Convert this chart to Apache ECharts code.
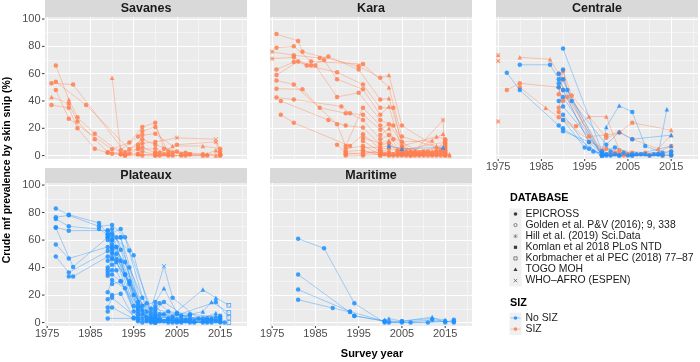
<!DOCTYPE html>
<html>
<head>
<meta charset="utf-8">
<script src="https://cdn.jsdelivr.net/npm/echarts@6/dist/echarts.min.js"></script>
<style>
  html, body { margin: 0; padding: 0; background: #fff; }
  #main { width: 700px; height: 362px; }
</style>
</head>
<body>
<div id="main"></div>
<script>
// tick labels
const yearTicks = [1975, 1985, 1995, 2005, 2015];
const prevTicks = [0, 20, 40, 60, 80, 100];
const regions = ['Savanes', 'Kara', 'Centrale', 'Plateaux', 'Maritime'];
const databases = ['EPICROSS', 'Golden et al. P&V (2016); 9, 338', 'Hill et al. (2019) Sci.Data',
  'Komlan et al 2018 PLoS NTD', 'Korbmacher et al PEC (2018) 77\u201387', 'TOGO MOH', 'WHO\u2013AFRO (ESPEN)'];
const dbCodes = ['c', 'o', 's', 'k', 'q', 't', 'x'];
const sizGroups = ['No SIZ', 'SIZ'];

// one array per site: [survey year, prevalence %, database code (default c = EPICROSS)]
const savanesSIZ = [
  [[1976, 53], [1981, 52], [1993, 2.5], [1997, 6], [2000, 2], [2004, 0], [2012, 0]],
  [[1977, 66], [1980, 41, 't'], [1982, 28], [1986, 16], [1993, 0], [1997, 3], [2001, 0]],
  [[1976, 43, 't'], [1980, 38], [1982, 25], [1986, 12], [1989, 2.5], [1994, 1.5], [1996, 4.7], [2000, 5], [2003, 1]],
  [[1977, 54], [1984, 37], [1994, 4.7], [1997, 12], [2000, 8], [2005, 3], [2011, 1], [2015, 1]],
  [[1976, 37], [1980, 35], [1982, 20], [1986, 5], [1989, 2], [1992, 1], [1996, 1], [2000, 0], [2007, 0]],
  [[1977, 48], [1980, 27], [1990, 4.7], [1994, 9.6], [1997, 21], [2000, 24], [2002, 5], [2006, 1], [2015, 0]],
  [[1990, 57, 't'], [1992, 4], [1996, 14], [1997, 18], [2000, 21], [2003, 3], [2008, 1]],
  [[1990, 1.3], [1992, 1], [1996, 8], [1997, 15], [2000, 16], [2004, 7, 't'], [2011, 7, 't'], [2015, 5]],
  [[1996, 6], [1997, 9], [2000, 10], [2005, 13, 's'], [2014, 12, 'x'], [2015, 3]],
  [[1993, 0], [1997, 0], [2001, 2], [2005, 8], [2014, 10, 's'], [2015, 0]],
  [[1996, 1], [2000, 0], [2003, 0], [2006, 0], [2011, 0, 't'], [2014, 4, 't'], [2015, 1]],
  [[2000, 2], [2002, 1], [2004, 2], [2007, 2], [2008, 1], [2012, 1, 't'], [2014, 0, 't']]
];
const savanesNoSIZ = [];

const karaSIZ = [
  [[1976, 89], [1981, 84], [1982, 76], [1995, 65.5], [2000, 57], [2002, 59, 't'], [2005, 22], [2015, 2]],
  [[1976, 79], [1980, 80], [1984, 69], [1996, 67], [2002, 50, 't'], [2005, 14], [2015, 4]],
  [[1975, 76, 's'], [1980, 73.5], [1986, 71.5], [1988, 72.5], [1995, 63], [2000, 41], [2002, 42, 't'], [2005, 10], [2012, 11, 't']],
  [[1975, 71, 's'], [1980, 72], [1983, 66], [1990, 61], [1996, 52], [2000, 35], [2003, 35], [2005, 7], [2013, 14, 't'], [2015, 12]],
  [[1976, 63], [1980, 68.5], [1984, 66], [1987, 70], [1990, 56], [1996, 48.5], [2000, 30], [2002, 36, 't'], [2005, 4], [2015, 10]],
  [[1976, 59], [1981, 69], [1985, 66], [1990, 43], [1995, 46], [2000, 26], [2003, 22], [2007, 2], [2014.5, 16, 't'], [2015, 8]],
  [[1976, 55], [1980, 52], [1990, 23], [1992, 7], [1996, 35], [2000, 22], [2005, 2], [2015, 6]],
  [[1976, 49], [1982, 48.5], [1986, 35], [1992, 31], [1996, 30], [2000, 19], [2002, 23], [2007, 0], [2014.5, 26, 's'], [2015, 0]],
  [[1976, 42.5], [1980, 41], [1991, 36], [1993, 31], [1996, 26], [2000, 12], [2002, 15], [2010, 1]],
  [[1977, 40], [1988, 26], [1992, 22], [1996, 20.6], [2000, 8], [2002, 9], [2005, 0], [2015, 2]],
  [[1977, 30], [1980, 24], [1993, 7], [1996, 15.6], [2000, 5], [2002, 5], [2009, 1], [2016, 0, 't']],
  [[1996, 10.7], [2000, 3], [2002, 2], [2006, 2], [2012, 1], [2015, 1]],
  [[1992, 5], [1996, 7], [2000, 1], [2002, 0], [2008, 0], [2013, 0]],
  [[1992, 3], [1996, 4], [2000, 0], [2003, 0], [2005, 1], [2011, 0], [2015, 0]],
  [[1992, 1], [1996, 2], [2000, 2], [2004, 0], [2007, 1], [2010, 0], [2014, 0]],
  [[1992, 0], [1996, 0], [2000, 1], [2002, 1], [2006, 0], [2009, 0], [2012, 3, 't'], [2015, 3]],
  [[1996, 13], [2000, 9], [2002, 11, 't'], [2004, 4], [2006, 1], [2008, 4, 't'], [2013, 2], [2015, 5]],
  [[1996, 6], [2000, 6], [2002, 7], [2005, 5], [2011, 3], [2013, 7, 't'], [2015, 7]],
  [[2000, 15], [2002, 20, 't'], [2003, 12], [2005, 6], [2010, 2], [2014, 4]],
  [[2000, 3], [2001, 1], [2004, 3], [2006, 3], [2008, 2], [2012, 2], [2015, 1]],
  [[1990, 8], [1992, 2], [1996, 1], [2000, 4], [2002, 3, 't'], [2004, 1], [2007, 3], [2009, 2], [2013, 1], [2015, 9]],
  [[1996, 3], [2000, 2], [2003, 1], [2005, 3], [2008, 1], [2010, 3], [2012, 0], [2014, 2], [2016, 1, 't']],
  [[2000, 0], [2002, 1, 't'], [2005, 1], [2007, 0], [2009, 1], [2011, 2, 't'], [2013, 4], [2015, 11]]
];
const karaNoSIZ = [
  [[2002, 7, 't'], [2005, 5, 't'], [2014.5, 6, 't']]
];

const centraleSIZ = [
  [[1980, 72, 't'], [1987, 70.5, 't'], [1989, 60], [1999, 2], [2003, 1], [2015, 0]],
  [[1977, 48], [1980, 53], [1989, 50], [1990, 56], [1996, 14], [2000, 15], [2003, 17], [2006, 24], [2015, 18.7, 't']],
  [[1980, 50], [1986, 35, 't'], [1989, 28], [1993, 21.4], [1996, 28.6, 't'], [2000, 28.6, 't'], [2003, 4], [2009, 2], [2015, 3]],
  [[1989, 45], [1990, 62], [1992, 44], [2000, 13], [2003, 17], [2006, 12], [2012, 5, 't'], [2015, 15, 't']],
  [[1989, 35], [1990, 48], [1996, 10], [2000, 5], [2005, 1], [2013, 0]],
  [[1990, 40], [1991, 43], [1999, 0], [2002, 2], [2006, 2], [2013, 1]],
  [[1989, 32], [1990, 26], [1999, 4], [2001, 1], [2004, 0], [2010, 0], [2015, 7]],
  [[1975, 73.5, 's']],
  [[1975, 69.3, 's']],
  [[1975, 25, 's']]
];
const centraleNoSIZ = [
  [[1977, 60.7], [1980, 48], [1989, 22], [1990, 17.8], [1996, 10], [1999, 1], [2006, 0]],
  [[1980, 66.5], [1987, 66.5], [1989, 56], [1999, 0], [2003, 0], [2009, 1]],
  [[1990, 78.4], [1999, 3], [2002, 6], [2006, 1], [2012, 1]],
  [[1989, 53], [1990, 63], [1991, 48], [1999, 1], [2000, 21, 't'], [2003, 36.6, 't'], [2006, 32], [2009, 7], [2013, 2]],
  [[1990, 56], [1992, 40], [2000, 8], [2003, 17.4, 't'], [2006, 12], [2015, 15, 't']],
  [[1989, 40], [1990, 43], [1999, 0], [2001, 3], [2005, 0], [2012, 1], [2014, 34, 't']],
  [[1989, 50], [1990, 36], [1999, 2], [2002, 1], [2007, 1], [2015, 7, 't']],
  [[1990, 30], [1996, 5], [2000, 0], [2004, 2], [2010, 0], [2015, 3]],
  [[1989, 60], [1990, 48], [1997, 3], [2000, 1], [2008, 1], [2015, 0]],
  [[1990, 20], [1999, 0], [2003, 0], [2011, 1], [2015, 1]],
  [[1990, 26], [1995, 6], [1999, 0], [2001, 0], [2006, 0], [2013, 0]]
];

const plateauxSIZ = [];
const plateauxNoSIZ = [
  [[1977, 83], [1980, 78.5], [1987, 72.5], [1990, 60], [1996, 10], [2000, 3], [2005, 1], [2012, 0]],
  [[1977, 76.6], [1980, 78], [1987, 70], [1990, 71], [1993, 62], [1998, 8], [2000, 2], [2007, 1]],
  [[1977, 75.4], [1980, 70], [1987, 68], [1989, 64], [1992, 68], [1995, 49], [1999, 5], [2002, 15], [2008, 2]],
  [[1977, 69.3], [1980, 66.8], [1989, 67], [1990, 63], [1994, 52.5], [1999, 10], [2002, 41, 'x'], [2004, 18], [2010, 3]],
  [[1977, 69], [1981, 40.5], [1989, 62], [1990, 57], [1992, 62], [1997, 12], [2000, 15], [2002, 25, 't'], [2005, 7]],
  [[1977, 56.8], [1980, 46.6], [1989, 55], [1991, 55], [1995, 20], [2000, 5], [2003, 3], [2011, 24, 't'], [2014, 18, 't'], [2017, 12.6, 'q']],
  [[1977, 48], [1980, 36.4], [1989, 52], [1990, 54], [1993, 35], [1998, 4], [2001, 1], [2011, 8, 't'], [2013, 15, 't'], [2017, 7.3, 'q']],
  [[1980, 33.5], [1981, 33.5], [1989, 48], [1990, 50], [1994, 40], [1997, 6], [2000, 0], [2014, 15], [2017, 3.6, 'q']],
  [[1989, 60], [1990, 68], [1992, 53], [1996, 15], [2000, 8], [2006, 1], [2015, 0], [2017, 0, 'q']],
  [[1989, 40], [1990, 46], [1991, 50], [1995, 12], [1999, 1], [2003, 0], [2009, 0]],
  [[1989, 38], [1990, 42], [1992, 45], [1996, 6], [2000, 0], [2004, 4], [2013, 2]],
  [[1989, 36], [1990, 38], [1991, 44], [1994, 28], [1998, 2], [2001, 6], [2008, 5]],
  [[1989, 34], [1990, 35], [1992, 30], [1997, 3], [2000, 12], [2003, 2], [2014, 5, 't']],
  [[1989, 22], [1990, 31], [1993, 25], [1999, 0], [2002, 1], [2012, 3]],
  [[1989, 17], [1990, 20], [1992, 21], [1995, 3.5], [2000, 4], [2005, 0], [2015, 1]],
  [[1989, 11], [1990, 18], [1997, 0], [2000, 1], [2011, 0]],
  [[1989, 8], [1990, 11], [1996, 1], [2000, 0], [2006, 0], [2015, 2]],
  [[1989, 3], [1995, 3], [2000, 0], [2004, 0], [2013, 0]],
  [[1989, 67], [1991, 62], [1997, 18], [2000, 6], [2004, 2], [2011, 1], [2015, 3]],
  [[1989, 64], [1991, 38], [1996, 4], [2000, 10], [2006, 5], [2014, 1]],
  [[1990, 65], [1993, 35], [1999, 3], [2001, 2], [2008, 0], [2016, 0]],
  [[1990, 28], [1992, 30], [1996, 2], [2000, 1], [2007, 2], [2014, 2]],
  [[1989, 45], [1991, 55], [1998, 1], [2001, 3], [2005, 6], [2012, 1], [2015, 5]],
  [[1990, 60], [1992, 62], [1996, 8], [2000, 2], [2009, 1], [2013, 3]],
  [[1989, 62], [1990, 55], [1993, 44], [1997, 9], [1999, 2], [2002, 6], [2006, 3], [2012, 2]],
  [[1990, 52], [1991, 46], [1995, 8], [1998, 14], [2000, 3], [2003, 8], [2008, 6], [2015, 4]],
  [[1990, 47], [1994, 30], [1996, 12], [1999, 7], [2001, 14], [2005, 2], [2011, 3], [2014, 7, 't']]
];

const maritimeSIZ = [];
const maritimeNoSIZ = [
  [[1981, 61], [1987, 54], [1994, 14], [2001, 0], [2005, 0], [2012, 2], [2017, 0]],
  [[1981, 35], [1994, 5], [2001, 1], [2007, 0], [2015, 1]],
  [[1981, 24], [1993, 8], [2002, 0], [2011, 0], [2017, 1]],
  [[1981, 16.6], [1989, 10.6], [1993, 7.7], [1994, 4.8], [2001, 1], [2005, 1], [2012, 3, 't'], [2015, 2, 't']],
  [[2001, 2, 't'], [2002, 3, 't'], [2005, 1], [2012, 4, 't'], [2015, 0], [2017, 2]]
];

const regionData = [
  [savanesNoSIZ, savanesSIZ],
  [karaNoSIZ, karaSIZ],
  [centraleNoSIZ, centraleSIZ],
  [plateauxNoSIZ, plateauxSIZ],
  [maritimeNoSIZ, maritimeSIZ]
];

// ---- styling / layout ----
const FONT = 'Liberation Sans, Arial, Helvetica, sans-serif';
const groupColors = ['#1E90FF', '#FF7F50'];
const xPath = 'M0,1 L1,0 L5,4 L9,0 L10,1 L6,5 L10,9 L9,10 L5,6 L1,10 L0,9 L4,5 Z';
const shapeSymbols = {
  c: 'circle',
  o: 'emptyCircle',
  s: 'path://' + xPath + ' M4.4,0 L5.6,0 L5.6,10 L4.4,10 Z M0,4.4 L10,4.4 L10,5.6 L0,5.6 Z',
  k: 'rect',
  q: 'path://M0,0 L10,0 L10,10 L0,10 Z M1.6,1.6 L1.6,8.4 L8.4,8.4 L8.4,1.6 Z',
  t: 'triangle',
  x: 'path://' + xPath
};

const panelLayout = [
  { left: 45, top: 17, height: 142, stripTop: 0, stripH: 17, xLab: false, yLab: true },
  { left: 270, top: 17, height: 142, stripTop: 0, stripH: 17, xLab: false, yLab: false },
  { left: 496, top: 17, height: 142, stripTop: 0, stripH: 17, xLab: true, yLab: false },
  { left: 45, top: 183, height: 143, stripTop: 168, stripH: 15, xLab: true, yLab: true },
  { left: 270, top: 183, height: 143, stripTop: 168, stripH: 15, xLab: true, yLab: false }
];
const PANEL_W = 202;

const near = (v, list) => list.some(t => Math.abs(t - v) < 1e-6);

// split line colours cycle with tick index (ticks every 0.5 yr / 2.5 %)
const MAJOR = '#FFFFFF', MINOR = '#F4F4F4', NONE = 'rgba(0,0,0,0)';
const xLineColors = [];
for (let i = 0; i < 20; i++) xLineColors.push(i === 1 ? MAJOR : (i === 11 ? MINOR : NONE));
const yLineColors = [NONE, MAJOR, NONE, NONE, NONE, MINOR, NONE, NONE];

const grids = [], xAxes = [], yAxes = [], series = [], graphics = [];

panelLayout.forEach((p, i) => {
  grids.push({
    left: p.left, top: p.top, width: PANEL_W, height: p.height,
    show: true, backgroundColor: '#EBEBEB', borderWidth: 0,
    containLabel: false, outerBoundsMode: 'none'
  });
  xAxes.push({
    gridIndex: i, type: 'value', min: 1974.5, max: 2021.2, interval: 0.5,
    axisLine: { show: false }, axisTick: { show: false },
    axisLabel: {
      show: p.xLab, margin: 0, color: '#4D4D4D', fontSize: 11, fontFamily: FONT, lineHeight: 11,
      formatter: v => near(v, yearTicks) ? '{t|}\n' + Math.round(v) : '',
      rich: { t: { width: 1, height: 2, lineHeight: 2, backgroundColor: '#333333' } }
    },
    splitLine: { show: true, lineStyle: { color: xLineColors, width: 1 } }
  });
  yAxes.push({
    gridIndex: i, type: 'value', min: -2.5, max: 101.5, interval: 2.5,
    axisLine: { show: false }, axisTick: { show: false },
    axisLabel: {
      show: p.yLab, margin: 0.5, color: '#4D4D4D', fontSize: 11, fontFamily: FONT,
      formatter: v => near(v, prevTicks) ? Math.round(v) + '{g|}{t|}' : '',
      rich: { g: { width: 1.5, height: 1 }, t: { width: 2.5, height: 1, backgroundColor: '#333333' } }
    },
    splitLine: { show: true, lineStyle: { color: yLineColors, width: 1 } }
  });

  // facet strip
  graphics.push({
    type: 'rect', silent: true, z: 1,
    shape: { x: p.left, y: p.stripTop, width: PANEL_W, height: p.stripH },
    style: { fill: '#D9D9D9' }
  });
  graphics.push({
    type: 'text', silent: true, z: 2,
    x: p.left + PANEL_W / 2, y: p.stripTop + p.stripH / 2,
    style: { text: regions[i], font: 'bold 12.5px ' + FONT, fill: '#1A1A1A', align: 'center', verticalAlign: 'middle' }
  });

  // SIZ first so blue sites sit on top where they overlap
  [1, 0].forEach(g => {
    regionData[i][g].forEach(site => {
      series.push({
        type: 'line', xAxisIndex: i, yAxisIndex: i, clip: false,
        data: site.map(pt => ({ value: [pt[0], pt[1]], symbol: shapeSymbols[pt[2] || 'c'] })),
        showSymbol: true, symbolSize: 4.5,
        lineStyle: { color: groupColors[g], width: 0.7, opacity: 0.55 },
        itemStyle: { color: groupColors[g], opacity: 0.85 },
        emphasis: { disabled: true }, silent: true, animation: false
      });
    });
  });
});

// axis titles
graphics.push({
  type: 'text', silent: true, x: 7, y: 170, rotation: Math.PI / 2,
  style: { text: 'Crude mf prevalence by skin snip (%)', font: 'bold 10.5px ' + FONT, fill: '#000', align: 'center', verticalAlign: 'middle' }
});
graphics.push({
  type: 'text', silent: true, x: 372, y: 354,
  style: { text: 'Survey year', font: 'bold 11px ' + FONT, fill: '#000', align: 'center', verticalAlign: 'middle' }
});

// legends
const LG_X = 510, KEY_CX = 515.5, TXT_X = 525.5, LG_FONT = '10.4px ' + FONT;
graphics.push({
  type: 'text', silent: true, x: LG_X, y: 198,
  style: { text: 'DATABASE', font: 'bold 10.8px ' + FONT, fill: '#000', verticalAlign: 'middle' }
});
graphics.push({
  type: 'rect', silent: true, shape: { x: 509.5, y: 208.5, width: 12, height: 78 },
  style: { fill: '#F0F0F0' }
});
const KEY = '#3A3A3A';
databases.forEach((name, k) => {
  const cy = 214 + k * 11.1;
  const code = dbCodes[k];
  let el;
  if (code === 'c') el = { type: 'circle', shape: { cx: KEY_CX, cy: cy, r: 1.8 }, style: { fill: KEY } };
  else if (code === 'o') el = { type: 'circle', shape: { cx: KEY_CX, cy: cy, r: 1.6 }, style: { fill: 'none', stroke: KEY, lineWidth: 0.6 } };
  else if (code === 'k') el = { type: 'rect', shape: { x: KEY_CX - 1.6, y: cy - 1.6, width: 3.2, height: 3.2 }, style: { fill: KEY } };
  else if (code === 'q') el = { type: 'rect', shape: { x: KEY_CX - 1.6, y: cy - 1.6, width: 3.2, height: 3.2 }, style: { fill: 'none', stroke: KEY, lineWidth: 0.6 } };
  else if (code === 't') el = { type: 'polygon', shape: { points: [[KEY_CX, cy - 2], [KEY_CX + 2, cy + 1.6], [KEY_CX - 2, cy + 1.6]] }, style: { fill: KEY } };
  else if (code === 'x') el = { type: 'group', children: [
      { type: 'line', shape: { x1: KEY_CX - 1.7, y1: cy - 1.7, x2: KEY_CX + 1.7, y2: cy + 1.7 }, style: { stroke: KEY, lineWidth: 0.6 } },
      { type: 'line', shape: { x1: KEY_CX - 1.7, y1: cy + 1.7, x2: KEY_CX + 1.7, y2: cy - 1.7 }, style: { stroke: KEY, lineWidth: 0.6 } }] };
  else el = { type: 'group', children: [
      { type: 'line', shape: { x1: KEY_CX - 1.7, y1: cy - 1.7, x2: KEY_CX + 1.7, y2: cy + 1.7 }, style: { stroke: '#777', lineWidth: 0.6 } },
      { type: 'line', shape: { x1: KEY_CX - 1.7, y1: cy + 1.7, x2: KEY_CX + 1.7, y2: cy - 1.7 }, style: { stroke: '#777', lineWidth: 0.6 } },
      { type: 'line', shape: { x1: KEY_CX, y1: cy - 2, x2: KEY_CX, y2: cy + 2 }, style: { stroke: '#777', lineWidth: 0.6 } },
      { type: 'line', shape: { x1: KEY_CX - 2, y1: cy, x2: KEY_CX + 2, y2: cy }, style: { stroke: '#777', lineWidth: 0.6 } }] };
  el.silent = true;
  graphics.push(el);
  graphics.push({
    type: 'text', silent: true, x: TXT_X, y: cy,
    style: { text: name, font: LG_FONT, fill: '#1A1A1A', verticalAlign: 'middle' }
  });
});

graphics.push({
  type: 'text', silent: true, x: LG_X, y: 303,
  style: { text: 'SIZ', font: 'bold 10.8px ' + FONT, fill: '#000', verticalAlign: 'middle' }
});
graphics.push({
  type: 'rect', silent: true, shape: { x: 509.5, y: 312.5, width: 12, height: 22.5 },
  style: { fill: '#F0F0F0' }
});
sizGroups.forEach((name, g) => {
  const cy = 318 + g * 11.1;
  graphics.push({ type: 'line', silent: true, shape: { x1: 510.5, y1: cy, x2: 520.5, y2: cy },
    style: { stroke: groupColors[g], lineWidth: 0.7, opacity: 0.6 } });
  graphics.push({ type: 'circle', silent: true, shape: { cx: KEY_CX, cy: cy, r: 1.8 },
    style: { fill: groupColors[g], opacity: 0.9 } });
  graphics.push({
    type: 'text', silent: true, x: TXT_X, y: cy,
    style: { text: name, font: LG_FONT, fill: '#1A1A1A', verticalAlign: 'middle' }
  });
});

const chart = echarts.init(document.getElementById('main'), null, { renderer: 'canvas' });
chart.setOption({
  animation: false,
  backgroundColor: '#FFFFFF',
  textStyle: { fontFamily: FONT },
  grid: grids,
  xAxis: xAxes,
  yAxis: yAxes,
  series: series,
  graphic: { elements: graphics }
});
</script>
</body>
</html>
